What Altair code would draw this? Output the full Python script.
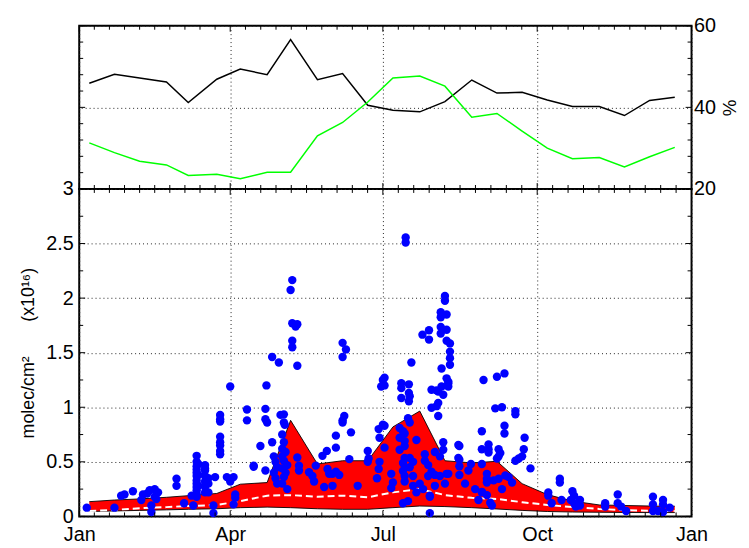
import altair as alt
import pandas as pd

W, H_TOP, H_BOT = 619, 165, 331

# ---- top panel (percent) ----
t_day = [6, 21, 36, 52, 65, 82, 96, 112, 126, 142, 157, 172, 187, 203, 218, 234, 249, 264, 279, 294, 310, 325, 340, 355]
black_pct = [45.9, 48.1, 47.2, 46.2, 41.2, 46.9, 49.4, 48.0, 56.6, 46.8, 48.3, 40.5, 39.3, 38.9, 41.4, 46.7, 43.5, 43.7, 41.8, 40.2, 40.2, 38.0, 41.7, 42.5]
green_pct = [31.3, 28.9, 26.8, 25.9, 23.3, 23.6, 22.5, 24.1, 24.1, 33.0, 36.3, 41.3, 47.2, 47.7, 45.2, 37.6, 38.5, 34.2, 30.0, 27.4, 27.7, 25.4, 27.9, 30.2]

# ---- bottom panel (molec/cm2 x1e16) ----
upper = [0.135, 0.15, 0.16, 0.175, 0.19, 0.21, 0.295, 0.31, 0.88, 0.48, 0.51, 0.51, 0.82, 0.965, 0.51, 0.49, 0.505, 0.30, 0.20, 0.14, 0.105, 0.10, 0.095, 0.093]
lower = [0.045, 0.05, 0.055, 0.06, 0.065, 0.07, 0.08, 0.085, 0.08, 0.07, 0.065, 0.065, 0.08, 0.095, 0.09, 0.08, 0.068, 0.055, 0.045, 0.04, 0.038, 0.036, 0.035, 0.035]
median = [0.05, 0.06, 0.075, 0.085, 0.095, 0.105, 0.14, 0.19, 0.195, 0.18, 0.19, 0.175, 0.22, 0.25, 0.195, 0.17, 0.16, 0.13, 0.105, 0.085, 0.068, 0.058, 0.052, 0.05]

dots_jan_mar = [
    (4.5, 0.08), (21, 0.08), (25, 0.19), (27, 0.2), (32, 0.23), (37, 0.15), (38, 0.2), (40.5, 0.21), (42, 0.24),
    (43, 0.04), (43, 0.1), (45, 0.25), (45, 0.18), (46, 0.16), (47, 0.22), (58, 0.345), (58, 0.28), (62.5, 0.12),
    (67, 0.19), (68, 0.10), (70, 0.555), (70, 0.5), (70, 0.46), (70, 0.43), (70, 0.4), (70, 0.37), (70, 0.33),
    (70, 0.3), (70, 0.27), (70, 0.24), (70, 0.21), (70, 0.18), (71, 0.48), (71, 0.38), (71, 0.28),
    (75, 0.47), (75, 0.44), (75, 0.42), (75, 0.37), (75, 0.32), (75, 0.27), (75, 0.22), (77, 0.3), (77, 0.22),
    (77, 0.35), (80, 0.1), (80, 0.03), (81, 0.36), (84, 0.93), (84, 0.89), (84, 0.87), (84, 0.73), (84, 0.68),
    (84, 0.65), (84, 0.6), (84, 0.57), (88, 0.36), (90, 0.32), (90, 1.19),
]
dots_apr_jun = [
    (92, 0.36), (92, 0.11), (93, 0.2), (93, 0.17), (100, 0.98), (100, 0.88), (104, 0.465), (104, 0.455),
    (108, 0.645), (111, 0.985), (111, 0.89), (112, 0.86), (111.6, 1.2), (115, 0.68), (111, 0.42), (115, 1.46),
    (119, 1.41), (116, 0.55), (117, 0.5), (118, 0.45), (116, 0.4), (117, 0.35), (118, 0.3), (120, 0.93),
    (122, 0.935), (122, 0.86), (122.5, 0.84), (121, 0.75), (122, 0.68), (121, 0.62), (123, 0.59), (121, 0.55),
    (122, 0.51), (124, 0.47), (121, 0.44), (123, 0.4), (122, 0.36), (121, 0.3), (124, 0.25), (126, 2.075),
    (127, 2.165), (127, 1.77), (129, 1.74), (130, 1.76), (127, 1.61), (127, 1.55), (130, 1.38), (130, 0.54),
    (131, 0.465), (131, 0.42), (137, 0.405), (139, 0.37), (140, 0.32), (141, 0.465), (146, 0.27), (151, 0.28),
    (145, 0.555), (147.6, 0.6), (148, 0.435), (149, 0.39), (153, 0.41), (155, 0.38), (151, 0.39), (153, 0.74),
    (153, 0.63), (157, 0.86), (158, 0.92), (157, 0.88), (157, 1.59), (159, 1.53), (157, 1.46), (162, 0.77),
    (161, 0.525), (166, 0.28), (172, 0.6), (172, 0.5), (172.5, 0.53), (177.5, 0.35), (178.5, 0.435), (179, 0.5),
    (178.5, 0.8), (179, 0.72), (180, 1.19),
]
dots_jul_sep = [
    (181, 0.84), (182, 0.83), (182, 0.63), (181, 1.25), (182, 1.27), (182, 1.2), (186, 0.39), (187, 0.31),
    (186, 0.26), (191, 0.81), (193, 0.78), (194, 0.76), (191, 0.72), (194, 0.69), (194, 0.645), (191, 0.61),
    (194, 0.535), (193, 0.49), (194, 0.445), (193, 0.415), (194, 0.37), (194, 0.32), (199, 0.37), (199, 0.28),
    (193, 0.12), (196, 0.14), (196, 0.9), (197, 0.86), (197, 0.535), (199, 0.5), (197, 0.45), (194.6, 2.555),
    (194.6, 2.51), (192, 1.22), (192, 1.175), (196.5, 1.21), (196.5, 1.13), (192, 1.085), (196.5, 1.055),
    (198, 1.41), (201, 0.70), (197, 1.1), (204.6, 1.665), (208.5, 1.705), (208.5, 1.62), (206, 0.57),
    (206, 0.51), (208, 0.47), (210, 0.41), (208, 0.37), (212, 0.38), (212, 0.59), (209, 0.19), (209, 0.03),
    (209, 0.18), (210, 1.16), (214, 1.145), (217, 1.115), (220, 1.235), (220, 1.19), (214, 1.04), (213, 1.01),
    (210, 0.995), (214, 0.92), (215, 0.37), (215, 0.55), (217, 0.61), (217, 0.68), (219, 0.39), (220, 0.39),
    (218, 0.30), (218, 2.02), (218, 1.975), (215.5, 1.87), (219, 1.85), (215.5, 1.825), (215.5, 1.735),
    (219, 1.71), (215.5, 1.675), (219, 1.61), (221, 1.585), (221, 1.51), (221, 1.45), (221, 1.39), (216, 1.355),
    (219, 1.265), (220, 1.22), (216, 1.19), (213, 1.155), (226.6, 0.645), (226.6, 0.52), (226.6, 0.46),
    (226.6, 0.38), (226, 0.655), (226, 0.535), (233.5, 0.48), (240, 0.78), (240, 0.615), (240, 0.48),
    (240, 0.22), (241, 1.25), (244, 0.66), (244, 0.615), (244, 0.585), (249, 1.28), (253.5, 1.31), (248, 0.99),
    (252, 1.0), (260, 0.965), (260, 0.935), (253.5, 0.83), (253.5, 0.76), (250, 0.615), (251, 0.58), (250, 0.55),
    (249, 0.53), (243, 0.39), (243, 0.345), (243, 0.31), (250, 0.345), (254, 0.375), (258, 0.31), (240, 0.225),
    (243, 0.195), (245, 0.125), (246, 0.10), (265.5, 0.72), (265, 0.615), (264, 0.55), (262, 0.53), (260, 0.51),
    (269, 0.44), (203, 0.3), (205, 0.25), (201, 0.22), (212, 0.28), (230, 0.3), (232, 0.42), (236, 0.25),
    (238, 0.15), (247, 0.33), (252, 0.25), (256, 0.36),
]
dots_oct_dec = [
    (279.6, 0.22), (279.6, 0.19), (286.5, 0.345), (286.5, 0.31), (281.6, 0.12), (287.5, 0.15), (294, 0.23),
    (295, 0.19), (293, 0.15), (295, 0.12), (296, 0.09), (298.5, 0.15), (298.5, 0.1), (313.5, 0.12), (313.5, 0.09),
    (321, 0.2), (321, 0.12), (323, 0.09), (326, 0.05), (342, 0.18), (342, 0.11), (342, 0.05), (345, 0.05),
    (348, 0.15), (348, 0.11), (348, 0.04), (352, 0.08),
]

# ---- axes / ticks ----
x_major = [0, 90, 181, 273, 365]
month_labels = ['Jan', 'Apr', 'Jul', 'Oct', 'Jan']
y_top_ticks = [20, 40, 60]
y_bot_ticks = [0, 0.5, 1, 1.5, 2, 2.5, 3]
x_minor = [a + (b - a) * k / 10 for a, b in zip(x_major[:-1], x_major[1:]) for k in range(1, 10)]
y_top_minor = [v for v in range(24, 60, 4) if v not in y_top_ticks]
y_bot_minor = [0.25, 0.75, 1.25, 1.75, 2.25, 2.75]

FONT = 'Liberation Sans'
GRID = dict(gridDash=[1, 3], gridColor='#222222', gridWidth=1)
L_MAJ, L_MIN = 6, 4
NB = '\u00a0'

xscale = alt.Scale(domain=[0, 365], nice=False, zero=False)
ytop_scale = alt.Scale(domain=[20, 60], nice=False, zero=False)
ybot_scale = alt.Scale(domain=[0, 3], nice=False, zero=False)

label_expr = f"{month_labels}[indexof({x_major}, datum.value)]"

top_x_axis = alt.Axis(values=x_major, labels=False, ticks=False, domain=False, grid=True,
                      title=None, minExtent=0, **GRID)
bot_x_axis = alt.Axis(values=x_major, labelExpr=label_expr, labelFlush=False, grid=True,
                      ticks=False, domain=False, labelPadding=8, title=None, **GRID)
top_y_axis = alt.Axis(orient='right', values=y_top_ticks, grid=True, ticks=False, domain=False,
                      labelPadding=2, labelFlush=False, title='%', titleAngle=270, titleBaseline='top',
                      titlePadding=5, titleFontSize=19, **GRID)
bot_y_axis = alt.Axis(values=y_bot_ticks, format='~g', grid=True, ticks=False, domain=False,
                      labelPadding=6, labelFlush=False,
                      title='molec/cm²' + NB * 7 + '(x10¹⁶)', titlePadding=8, **GRID)


def x_tick_layers(xaxis, H):
    out = []
    for vals, L in [(x_major, L_MAJ), (x_minor, L_MIN)]:
        base = alt.Chart(pd.DataFrame({'t': vals})).mark_rule(color='black', strokeWidth=1)
        xe = alt.X('t:Q', scale=xscale, axis=xaxis)
        out.append(base.encode(x=xe, y=alt.value(0), y2=alt.value(L)))
        out.append(base.encode(x=xe, y=alt.value(H), y2=alt.value(H - L)))
    return out


def y_tick_layers(yscale, yaxis, major, minor):
    out = []
    for vals, L in [(major, L_MAJ), (minor, L_MIN)]:
        base = alt.Chart(pd.DataFrame({'t': vals})).mark_rule(color='black', strokeWidth=1)
        ye = alt.Y('t:Q', scale=yscale, axis=yaxis)
        out.append(base.encode(y=ye, x=alt.value(0), x2=alt.value(L)))
        out.append(base.encode(y=ye, x=alt.value(W), x2=alt.value(W - L)))
    return out


# ---- top panel ----
top_df = pd.DataFrame({'day': t_day, 'black': black_pct, 'green': green_pct})
xt = alt.X('day:Q', scale=xscale, axis=top_x_axis)
top_black = alt.Chart(top_df).mark_line(color='black', strokeWidth=1.5).encode(
    x=xt, y=alt.Y('black:Q', scale=ytop_scale, axis=top_y_axis))
top_green = alt.Chart(top_df).mark_line(color='#00ff00', strokeWidth=1.5).encode(
    x=xt, y=alt.Y('green:Q', scale=ytop_scale, axis=top_y_axis))
top = alt.layer(top_black, top_green,
                *x_tick_layers(top_x_axis, H_TOP),
                *y_tick_layers(ytop_scale, top_y_axis, y_top_ticks, y_top_minor)
                ).properties(width=W, height=H_TOP)

# ---- bottom panel ----
band_df = pd.DataFrame({'day': t_day, 'upper': upper, 'lower': lower, 'median': median})
all_dots = dots_jan_mar + dots_apr_jun + dots_jul_sep + dots_oct_dec
dot_df = pd.DataFrame({'day': [d for d, v in all_dots], 'val': [v for d, v in all_dots]})
xb = alt.X('day:Q', scale=xscale, axis=bot_x_axis)

area = alt.Chart(band_df).mark_area(color='red', opacity=1).encode(
    x=xb, y=alt.Y('upper:Q', scale=ybot_scale, axis=bot_y_axis), y2=alt.Y2('lower:Q'))
up_line = alt.Chart(band_df).mark_line(color='black', strokeWidth=0.9).encode(
    x=xb, y=alt.Y('upper:Q', scale=ybot_scale, axis=bot_y_axis))
lo_line = alt.Chart(band_df).mark_line(color='black', strokeWidth=0.9).encode(
    x=xb, y=alt.Y('lower:Q', scale=ybot_scale, axis=bot_y_axis))
med_line = alt.Chart(band_df).mark_line(color='white', strokeWidth=2, strokeDash=[7, 4]).encode(
    x=xb, y=alt.Y('median:Q', scale=ybot_scale, axis=bot_y_axis))
dots = alt.Chart(dot_df).mark_circle(color='#0000ff', size=72, opacity=1).encode(
    x=xb, y=alt.Y('val:Q', scale=ybot_scale, axis=bot_y_axis))

bottom = alt.layer(area, up_line, lo_line, med_line, dots,
                   *x_tick_layers(bot_x_axis, H_BOT),
                   *y_tick_layers(ybot_scale, bot_y_axis, y_bot_ticks, y_bot_minor)
                   ).properties(width=W, height=H_BOT)

chart = alt.vconcat(top, bottom, spacing=0, bounds='flush').properties(
    padding={'left': 11, 'top': 4, 'right': 0, 'bottom': 0}
).configure_view(
    stroke='black', strokeWidth=2
).configure_axis(
    labelFont=FONT, titleFont=FONT, labelFontSize=20, titleFontSize=18,
    titleFontWeight='normal', labelColor='black', titleColor='black'
)

chart.save("out.html", embed_options={"renderer": "svg", "actions": False})
